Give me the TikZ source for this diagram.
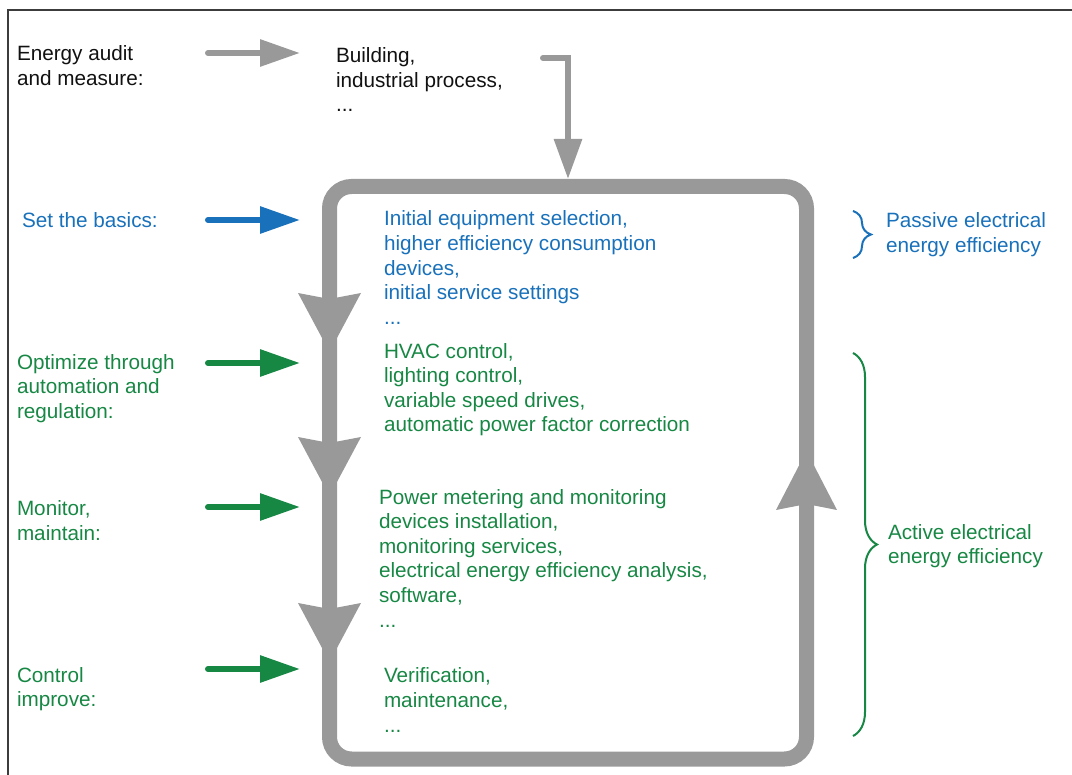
\documentclass[tikz,border=0pt]{standalone}
\usepackage{fontspec}
\setmainfont{Liberation Sans}
\usetikzlibrary{arrows.meta,decorations.pathreplacing}
\definecolor{eblue}{RGB}{24,113,186}
\definecolor{egreen}{RGB}{23,135,68}
\definecolor{egray}{RGB}{153,153,153}
\definecolor{eframe}{RGB}{60,60,60}
\definecolor{etext}{RGB}{17,17,17}
\tikzset{
  txt/.style={anchor=base west, inner sep=0pt, outer sep=0pt, align=left,
    font=\fontsize{20.7}{24.6}\selectfont},
  smallarrow/.style={line width=6pt, line cap=round,
    -{Triangle[length=40pt,width=26pt]}},
  toparrow/.style={line width=6pt, line cap=round, line join=miter,
    -{Triangle[length=40pt,width=27pt]}},
  loopbox/.style={draw=egray, line width=15pt, rounded corners=22pt,
    minimum width=477pt, minimum height=572.5pt, inner sep=0pt},
  headfill/.style={fill=egray},
  bracestyle/.style={line width=2pt, decorate},
}
\begin{document}
\begin{tikzpicture}[x=1pt,y=-1pt]
\useasboundingbox (0,0) rectangle (1072,775);
% frame
\draw[eframe, line width=2pt] (8,775) -- (8,10) -- (1072,10);

% loop
\node[loopbox] (loop) at (568,472.75) {};

% down arrowheads on left side
\fill[headfill] (298,293) -- (329.5,299) -- (361,293) -- (329.5,352) -- cycle;
\fill[headfill] (298,437) -- (329.5,443) -- (361,437) -- (329.5,496) -- cycle;
\fill[headfill] (298,603) -- (329.5,609) -- (361,603) -- (329.5,662) -- cycle;
% up arrowhead on right side
\fill[headfill] (776,510) -- (806.5,504) -- (837,510) -- (806.5,451) -- cycle;

% texts (anchored at the baseline of their last line)
\node[txt, text=etext] (audit) at (17,85.6) {Energy audit\\and measure:};
\node[txt, text=etext] (building) at (336,112) {Building,\\industrial process,\\...};
\node[txt, text=eblue] (basics) at (22,228) {Set the basics:};
\node[txt, text=eblue] (passiveblock) at (384,324.4) {Initial equipment selection,\\higher efficiency consumption\\devices,\\initial service settings\\...};
\node[txt, text=egreen] (optimize) at (17,418.5) {Optimize through\\automation and\\regulation:};
\node[txt, text=egreen] (hvac) at (384,432) {HVAC control,\\lighting control,\\variable speed drives,\\automatic power factor correction};
\node[txt, text=egreen] (monitor) at (17,540.6) {Monitor,\\maintain:};
\node[txt, text=egreen] (metering) at (379,627) {Power metering and monitoring\\devices installation,\\monitoring services,\\electrical energy efficiency analysis,\\software,\\...};
\node[txt, text=egreen] (control) at (17,706.6) {Control\\improve:};
\node[txt, text=egreen] (verif) at (384,732) {Verification,\\maintenance,\\...};
\node[txt, text=eblue] (passive) at (886,252.6) {Passive electrical\\energy efficiency};
\node[txt, text=egreen] (active) at (888,563.6) {Active electrical\\energy efficiency};

% horizontal arrows
\coordinate (a0s) at (208,53);  \coordinate (a0e) at (300,53);
\coordinate (a1s) at (208,220); \coordinate (a1e) at (300,220);
\coordinate (a2s) at (208,363); \coordinate (a2e) at (300,363);
\coordinate (a3s) at (208,507); \coordinate (a3e) at (300,507);
\coordinate (a4s) at (208,669); \coordinate (a4e) at (300,669);
\draw[smallarrow, egray] (a0s) -- (a0e);
\draw[smallarrow, eblue] (a1s) -- (a1e);
\draw[smallarrow, egreen] (a2s) -- (a2e);
\draw[smallarrow, egreen] (a3s) -- (a3e);
\draw[smallarrow, egreen] (a4s) -- (a4e);

% top arrow into loop
\coordinate (topstart) at (543,58);
\draw[toparrow, egray] (topstart) -| (loop.north);

% braces
\coordinate (pb1) at (853,211); \coordinate (pb2) at (853,258);
\coordinate (ab1) at (853,353); \coordinate (ab2) at (853,736);
\draw[bracestyle, eblue, decoration={brace, amplitude=18pt}] (pb1) -- (pb2);
\draw[bracestyle, egreen, decoration={brace, amplitude=24pt}] (ab1) -- (ab2);
\end{tikzpicture}
\end{document}
